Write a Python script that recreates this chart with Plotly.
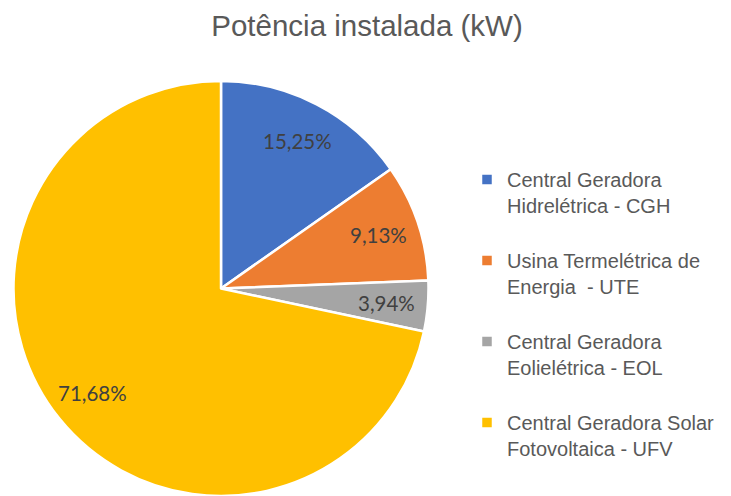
import numpy as np
import plotly.graph_objects as go

# dados do gráfico
fontes = [
    "Central Geradora<br>Hidrelétrica - CGH",
    "Usina Termelétrica de<br>Energia  - UTE",
    "Central Geradora<br>Eolielétrica - EOL",
    "Central Geradora Solar<br>Fotovoltaica - UFV",
]
percentual = [15.25, 9.13, 3.94, 71.68]
rotulos = ["15,25%", "9,13%", "3,94%", "71,68%"]
cores = ["#4472C4", "#ED7D31", "#A5A5A5", "#FFC000"]

W, H = 731, 496

# pie domain (paper coords)
dom_x = [12 / W, 430 / W]
dom_y = [0, (H - 81) / H]

# blank line after each entry (except the last) -> bigger gap between entries
nomes = [f + "<br>\u00a0" for f in fontes[:-1]] + [fontes[-1]]

fig = go.Figure()
fig.add_trace(go.Pie(
    labels=nomes,
    values=percentual,
    textinfo="none",
    sort=False,
    direction="clockwise",
    rotation=0,
    marker=dict(colors=cores, line=dict(color="white", width=2.5)),
    domain=dict(x=dom_x, y=dom_y),
    hovertemplate="%{label}: %{percent}<extra></extra>",
))

# data labels like excel: at 80% of the radius on the middle angle of each slice
cx = (dom_x[0] + dom_x[1]) / 2 * W
cy = H - (dom_y[0] + dom_y[1]) / 2 * H
r = min((dom_x[1] - dom_x[0]) * W, (dom_y[1] - dom_y[0]) * H) / 2
total = sum(percentual)
acc = 0
for v, t in zip(percentual, rotulos):
    ang = np.deg2rad(360 * (acc + v / 2) / total)
    acc += v
    px_ = cx + 0.8 * r * np.sin(ang)
    py_ = cy - 0.8 * r * np.cos(ang)
    fig.add_annotation(x=px_ / W, y=1 - py_ / H, xref="paper", yref="paper",
                       text=t, showarrow=False, xanchor="center", yanchor="middle",
                       font=dict(family="Lato", size=20.5, color="#404040"))

fig.update_layout(
    width=W, height=H,
    margin=dict(l=0, r=0, t=0, b=0),
    paper_bgcolor="white",
    title=dict(text="Potência instalada (kW)", x=367 / W, xanchor="center",
               y=1 - 26 / H, yanchor="middle",
               font=dict(family="Liberation Sans", size=29.5, color="#595959")),
    legend=dict(x=467 / W, xanchor="left", y=1 - 160 / H, yanchor="top",
                valign="top", itemwidth=30,
                font=dict(family="Liberation Sans", size=20, color="#595959")),
)

fig.write_html("out.html", config={"displayModeBar": False},
               post_script="document.body.style.margin='0px';")
